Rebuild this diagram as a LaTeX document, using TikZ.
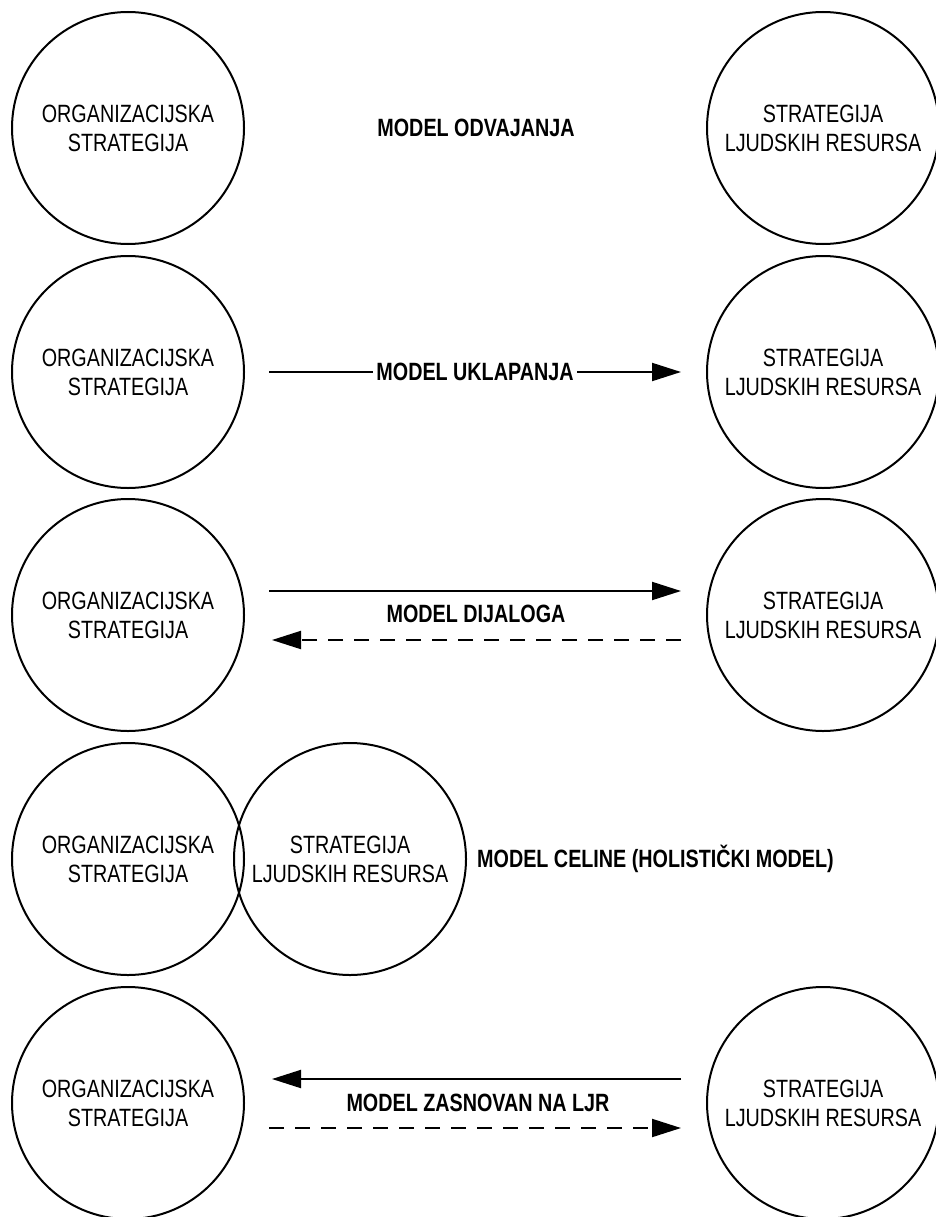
\documentclass[tikz,border=0pt]{standalone}
\usepackage{fontspec}
\setmainfont{Liberation Sans}[FakeStretch=0.79]
\usetikzlibrary{arrows.meta}
\begin{document}
\begin{tikzpicture}[x=1pt,y=-1pt,
  every node/.style={font=\fontsize{25}{29}\selectfont},
  strat/.style={draw, circle, line width=2pt, minimum size=232pt, inner sep=0pt, align=center},
  lbl/.style={font=\fontsize{25}{29}\selectfont\bfseries, inner sep=3pt},
  arr/.style={line width=2pt, -{Triangle[length=29pt,width=18pt]}},
  darr/.style={arr, dash pattern=on 15pt off 11pt}]
\useasboundingbox (0,0) rectangle (935,1217);

% Row 1: separation model
\node[strat] (o1) at (128,128) {ORGANIZACIJSKA\\STRATEGIJA};
\node[strat] (s1) at (823,128) {STRATEGIJA\\LJUDSKIH RESURSA};
\node[lbl] (l1) at (476,128) {MODEL ODVAJANJA};

% Row 2: fit model
\node[strat] (o2) at (128,372) {ORGANIZACIJSKA\\STRATEGIJA};
\node[strat] (s2) at (823,372) {STRATEGIJA\\LJUDSKIH RESURSA};
\draw[arr] ([xshift=24pt]o2.east) -- ([xshift=-25pt]s2.west)
  node[lbl, midway, fill=white] (l2) {MODEL UKLAPANJA};

% Row 3: dialogue model
\node[strat] (o3) at (128,615) {ORGANIZACIJSKA\\STRATEGIJA};
\node[strat] (s3) at (823,615) {STRATEGIJA\\LJUDSKIH RESURSA};
\node[lbl] (l3) at (476,614) {MODEL DIJALOGA};
\draw[arr] ([shift={(24pt,24pt)}]o3.east) -- ([shift={(-25pt,24pt)}]s3.west);
\draw[darr] ([shift={(-25pt,-25pt)}]s3.west) -- ([shift={(27pt,-25pt)}]o3.east);

% Row 4: holistic model
\node[strat] (o4) at (128,859) {ORGANIZACIJSKA\\STRATEGIJA};
\node[strat] (s4) at (350,859) {STRATEGIJA\\LJUDSKIH RESURSA};
\node[lbl, anchor=west, inner sep=0pt] (l4) at (477,859) {MODEL CELINE (HOLISTIČKI MODEL)};

% Row 5: HR-based model
\node[strat] (o5) at (128,1103) {ORGANIZACIJSKA\\STRATEGIJA};
\node[strat] (s5) at (823,1103) {STRATEGIJA\\LJUDSKIH RESURSA};
\node[lbl] (l5) at (478,1103) {MODEL ZASNOVAN NA LJR};
\draw[arr] ([shift={(-25pt,24pt)}]s5.west) -- ([shift={(27pt,24pt)}]o5.east);
\draw[darr] ([shift={(24pt,-25pt)}]o5.east) -- ([shift={(-25pt,-25pt)}]s5.west);
\end{tikzpicture}
\end{document}
